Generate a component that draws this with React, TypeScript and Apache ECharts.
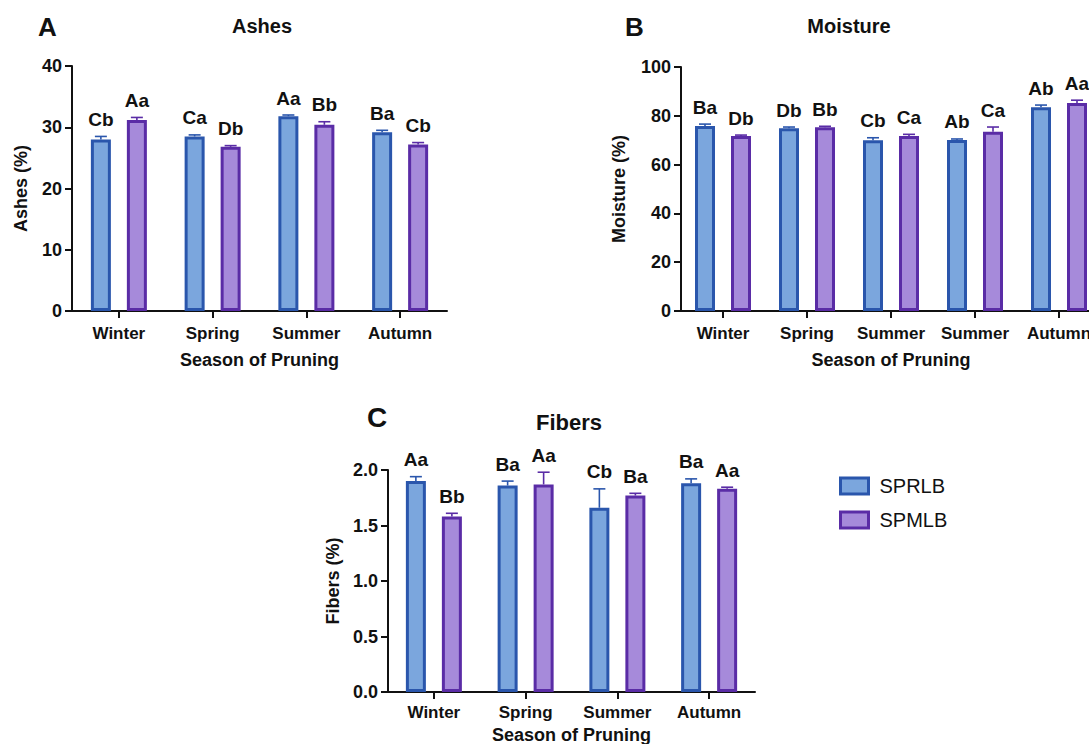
import React, { useEffect, useRef } from "react";
import * as echarts from "echarts";

// ---------- DATA ----------
const seasonsACD = ["Winter", "Spring", "Summer", "Autumn"];
const seasonsB = ["Winter", "Spring", "Summer", "Summer", "Autumn"];

const ashesSPRLB = [28.0, 28.5, 31.8, 29.2];
const ashesSPRLBErr = [0.5, 0.25, 0.2, 0.3];
const ashesSPMLB = [31.2, 26.8, 30.4, 27.2];
const ashesSPMLBErr = [0.4, 0.2, 0.5, 0.3];
const ashesSPRLBLetters = ["Cb", "Ca", "Aa", "Ba"];
const ashesSPMLBLetters = ["Aa", "Db", "Bb", "Cb"];

const moistSPRLB = [75.8, 74.9, 70.0, 70.1, 83.5];
const moistSPRLBErr = [0.8, 0.5, 1.0, 0.4, 0.9];
const moistSPMLB = [71.7, 75.3, 71.7, 73.5, 85.2];
const moistSPMLBErr = [0.4, 0.4, 0.7, 1.9, 1.2];
const moistSPRLBLetters = ["Ba", "Db", "Cb", "Ab", "Ab"];
const moistSPMLBLetters = ["Db", "Bb", "Ca", "Ca", "Aa"];

const fibSPRLB = [1.9, 1.86, 1.66, 1.88];
const fibSPRLBErr = [0.04, 0.04, 0.17, 0.04];
const fibSPMLB = [1.58, 1.87, 1.77, 1.83];
const fibSPMLBErr = [0.03, 0.11, 0.02, 0.015];
const fibSPRLBLetters = ["Aa", "Ba", "Cb", "Ba"];
const fibSPMLBLetters = ["Bb", "Aa", "Ba", "Aa"];

const ashesTicks = { min: 0, max: 40, interval: 10 };
const moistTicks = { min: 0, max: 100, interval: 20 };
const fibTicks = { min: 0, max: 2, interval: 0.5 };

// ---------- STYLE ----------
const FONT = '"Liberation Sans", Arial, Helvetica, sans-serif';
const BLUE_FILL = "#7BA6DD";
const BLUE_EDGE = "#2A56AC";
const PURP_FILL = "#A68ADA";
const PURP_EDGE = "#5A2CA6";
const INK = "#111111";
const BAR_W = 20;
const GAP = 16;
const OFFSET = (BAR_W + GAP) / 2;

function errSeries(
  values: number[],
  errs: number[],
  letters: string[],
  side: number,
  color: string,
  idx: number
) {
  return {
    type: "custom",
    xAxisIndex: idx,
    yAxisIndex: idx,
    z: 5,
    silent: true,
    data: values.map((v, i) => [i, v, errs[i]]),
    encode: { x: 0, y: 1 },
    renderItem: (params: any, api: any) => {
      const i = params.dataIndex;
      const v = api.value(1);
      const e = api.value(2);
      const base = api.coord([i, v]);
      const top = api.coord([i, v + e]);
      const x = base[0] + side * OFFSET;
      return {
        type: "group",
        children: [
          {
            type: "line",
            shape: { x1: x, y1: base[1], x2: x, y2: top[1] },
            style: { stroke: color, lineWidth: 1.6 },
          },
          {
            type: "line",
            shape: { x1: x - 6, y1: top[1], x2: x + 6, y2: top[1] },
            style: { stroke: color, lineWidth: 1.6 },
          },
          {
            type: "text",
            x: x,
            y: top[1] - 17,
            style: {
              text: letters[i],
              fill: INK,
              font: `bold 19px ${FONT}`,
              textAlign: "center",
              textVerticalAlign: "middle",
            },
          },
        ],
      };
    },
  };
}

function barSeries(name: string, values: number[], fill: string, edge: string, idx: number) {
  return {
    name,
    type: "bar",
    xAxisIndex: idx,
    yAxisIndex: idx,
    barWidth: BAR_W,
    barGap: `${(GAP / BAR_W) * 100}%`,
    data: values,
    itemStyle: { color: fill, borderColor: edge, borderWidth: 3 },
  };
}

function xAxis(cats: string[], idx: number, margin: number, nameGap: number) {
  return {
    type: "category",
    gridIndex: idx,
    data: cats,
    axisLine: { show: true, lineStyle: { color: INK, width: 2 } },
    axisTick: { show: true, alignWithLabel: true, interval: 0, length: 7, lineStyle: { color: INK, width: 2 } },
    axisLabel: { interval: 0, color: INK, fontWeight: "bold", fontSize: 17, fontFamily: FONT, margin },
    name: "Season of Pruning",
    nameLocation: "middle",
    nameGap,
    nameTextStyle: { color: INK, fontWeight: "bold", fontSize: 18, fontFamily: FONT },
  };
}

function yAxis(
  name: string,
  ticks: { min: number; max: number; interval: number },
  idx: number,
  nameGap: number,
  fmt?: (v: number) => string
) {
  return {
    type: "value",
    gridIndex: idx,
    min: ticks.min,
    max: ticks.max,
    interval: ticks.interval,
    axisLine: { show: true, lineStyle: { color: INK, width: 2 } },
    axisTick: { show: true, length: 7, lineStyle: { color: INK, width: 2 } },
    splitLine: { show: false },
    axisLabel: {
      color: INK,
      fontWeight: "bold",
      fontSize: 18,
      fontFamily: FONT,
      margin: 10,
      formatter: fmt,
    },
    name,
    nameLocation: "middle",
    nameGap,
    nameTextStyle: { color: INK, fontWeight: "bold", fontSize: 18, fontFamily: FONT },
  };
}

function textEl(text: string, x: number, y: number, size: number, align: string) {
  return {
    type: "text",
    x,
    y,
    style: {
      text,
      fill: INK,
      font: `bold ${size}px ${FONT}`,
      textAlign: align,
      textVerticalAlign: "middle",
    },
  };
}

export default function App() {
  const ref = useRef<HTMLDivElement>(null);
  useEffect(() => {
    document.body.style.margin = "0";
    if (!ref.current) return;
    const chart = echarts.init(ref.current, undefined, { renderer: "svg" });
    const option: any = {
      animation: false,
      backgroundColor: "#ffffff",
      grid: [
        { left: 72, top: 66, width: 375, height: 245, outerBoundsMode: "none" },
        { left: 681, top: 67, width: 420, height: 244, outerBoundsMode: "none" },
        { left: 388, top: 470, width: 367, height: 222, outerBoundsMode: "none" },
      ],
      xAxis: [
        xAxis(seasonsACD, 0, 14, 40),
        xAxis(seasonsB, 1, 14, 40),
        xAxis(seasonsACD, 2, 12, 34),
      ],
      yAxis: [
        yAxis("Ashes (%)", ashesTicks, 0, 42),
        yAxis("Moisture (%)", moistTicks, 1, 53),
        yAxis("Fibers (%)", fibTicks, 2, 46, (v: number) => v.toFixed(1)),
      ],
      legend: {
        orient: "vertical",
        left: 834,
        top: 471,
        itemWidth: 28,
        itemHeight: 16,
        itemGap: 14,
        icon: "rect",
        textStyle: { color: INK, fontSize: 20, fontFamily: FONT, lineHeight: 20, padding: [0, 0, 0, 6] },
        data: [
          { name: "SPRLB", itemStyle: { color: BLUE_FILL, borderColor: BLUE_EDGE, borderWidth: 3 } },
          { name: "SPMLB", itemStyle: { color: PURP_FILL, borderColor: PURP_EDGE, borderWidth: 3 } },
        ],
      },
      graphic: [
        textEl("A", 38, 27, 26, "left"),
        textEl("Ashes", 262, 26, 20, "center"),
        textEl("B", 625, 27, 26, "left"),
        textEl("Moisture", 849, 26, 20, "center"),
        textEl("C", 367, 417, 28, "left"),
        textEl("Fibers", 569, 422, 22, "center"),
      ],
      series: [
        barSeries("SPRLB", ashesSPRLB, BLUE_FILL, BLUE_EDGE, 0),
        barSeries("SPMLB", ashesSPMLB, PURP_FILL, PURP_EDGE, 0),
        errSeries(ashesSPRLB, ashesSPRLBErr, ashesSPRLBLetters, -1, BLUE_EDGE, 0),
        errSeries(ashesSPMLB, ashesSPMLBErr, ashesSPMLBLetters, 1, PURP_EDGE, 0),
        barSeries("SPRLB", moistSPRLB, BLUE_FILL, BLUE_EDGE, 1),
        barSeries("SPMLB", moistSPMLB, PURP_FILL, PURP_EDGE, 1),
        errSeries(moistSPRLB, moistSPRLBErr, moistSPRLBLetters, -1, BLUE_EDGE, 1),
        errSeries(moistSPMLB, moistSPMLBErr, moistSPMLBLetters, 1, PURP_EDGE, 1),
        barSeries("SPRLB", fibSPRLB, BLUE_FILL, BLUE_EDGE, 2),
        barSeries("SPMLB", fibSPMLB, PURP_FILL, PURP_EDGE, 2),
        errSeries(fibSPRLB, fibSPRLBErr, fibSPRLBLetters, -1, BLUE_EDGE, 2),
        errSeries(fibSPMLB, fibSPMLBErr, fibSPMLBLetters, 1, PURP_EDGE, 2),
      ],
    };
    chart.setOption(option);
    return () => chart.dispose();
  }, []);
  return <div ref={ref} style={{ width: 1089, height: 744 }} />;
}
